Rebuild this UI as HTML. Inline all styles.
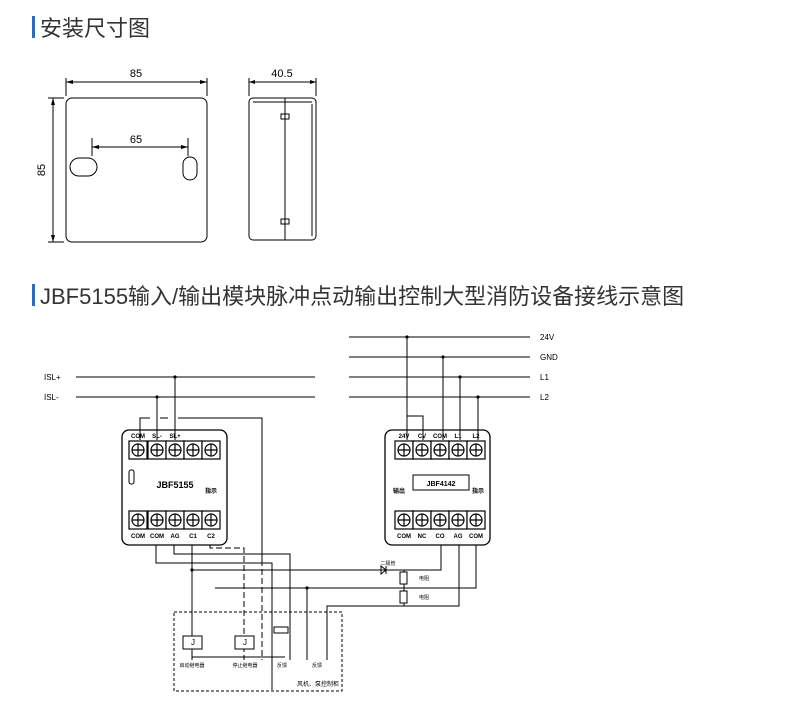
<!DOCTYPE html>
<html><head><meta charset="utf-8"><style>
body{margin:0;background:#fff;width:790px;height:714px;overflow:hidden;font-family:"Liberation Sans","Noto Sans CJK SC",sans-serif}
svg{position:absolute;left:0;top:0}
</style></head><body>
<svg width="790" height="714" viewBox="0 0 790 714" xmlns="http://www.w3.org/2000/svg" font-family="Liberation Sans, Noto Sans CJK SC, sans-serif">
<defs>
<g id="term"><rect x="-9" y="-9" width="18" height="18" fill="#fff" stroke="#000" stroke-width="1.2"/><circle r="6" fill="none" stroke="#000" stroke-width="1.2"/><path d="M-6 0H6M0-6V6" stroke="#000" stroke-width="1.2"/></g>
</defs>
<!-- titles -->
<rect x="32" y="16" width="3" height="22" fill="#1e6fd0"/>
<text x="40" y="36" font-size="22" fill="#333">安装尺寸图</text>
<rect x="32" y="284" width="3" height="22" fill="#1e6fd0"/>
<text x="40" y="304" font-size="22" fill="#333">JBF5155输入/输出模块脉冲点动输出控制大型消防设备接线示意图</text>

<g stroke="#000" fill="none" stroke-width="1">
<!-- front view -->
<rect x="66" y="98" width="141" height="144" rx="6"/>
<path d="M66 78V96M207 78V96M66 82H207"/>
<path d="M48 98H64M48 242H64M53 98V242"/>
<path d="M92 138V156M188 138V156M92 147H188"/>
<rect x="70" y="158" width="27" height="18" rx="9"/>
<rect x="183" y="157" width="14" height="23" rx="7"/>
<!-- side view -->
<rect x="249" y="98" width="67" height="142" rx="4"/>
<path d="M253 102H312M285 98V240M312 104V236"/>
<path d="M249 78V96M316 78V96M249 82H316"/>
<rect x="281" y="114" width="8" height="5"/><rect x="281" y="219" width="8" height="5"/>
</g>
<g fill="#000"><path d="M66 82l7-2v4zM207 82l-7-2v4zM53 98l-2 7h4zM53 242l-2-7h4zM92 147l7-2v4zM188 147l-7-2v4zM249 82l6-2v4zM316 82l-6-2v4z"/></g>
<text x="136" y="77" font-size="11" text-anchor="middle">85</text>
<text x="136" y="143" font-size="11" text-anchor="middle">65</text>
<text x="282" y="77" font-size="11" text-anchor="middle">40.5</text>
<text x="45" y="170" font-size="11" text-anchor="middle" transform="rotate(-90 45 170)">85</text>

<!-- bus lines -->
<g stroke="#000" stroke-width="1" fill="none">
<path d="M76 377H315M76 397H315M349 337H530M349 357H530M349 377H530M349 397H530"/>
<path d="M175 377V440M157 397V440"/>
<path d="M407 337V416H423V440M443 357V440M460 377V440M478 397V440M407 416V440"/>
<path d="M140 440V418H150M160 418H168M178 418H262V560"/>
<!-- modules -->
<rect x="122" y="430" width="105" height="115" rx="7" stroke-width="1.3"/>
<rect x="385" y="430" width="105" height="115" rx="7" stroke-width="1.3"/>
<!-- lower wiring -->
<path d="M156 545V563H272V690"/>
<path d="M174 545V554H290V660"/>
<path d="M192 545V660"/>
<path d="M210 545V548H244V660" stroke-dasharray="6 3"/>
<path d="M262 560V660" stroke-dasharray="6 3"/>
<path d="M192 570H441V545"/>
<path d="M215 588H476V545M404 570V606M307 588V660"/>
<path d="M459 545V606H327V660"/>
<path d="M192 657H285"/>
<rect x="174" y="612" width="168" height="79" stroke-dasharray="3 2"/>
<rect x="183" y="636" width="19" height="13" fill="#fff"/>
<rect x="235" y="636" width="19" height="13" fill="#fff"/>
<rect x="400" y="572" width="7" height="12" fill="#fff"/>
<rect x="400" y="591" width="7" height="12" fill="#fff"/>
<rect x="274" y="627" width="14" height="6" fill="#fff"/>
<path d="M386 566V574M386 570l-5-4v8z"/>
</g>
<g fill="#000"><circle cx="175" cy="377" r="1.6"/><circle cx="157" cy="397" r="1.6"/><circle cx="407" cy="337" r="1.6"/><circle cx="443" cy="357" r="1.6"/><circle cx="460" cy="377" r="1.6"/><circle cx="478" cy="397" r="1.6"/><circle cx="192" cy="570" r="1.6"/><circle cx="307" cy="588" r="1.6"/></g>
<g font-size="8">
<text x="540" y="340">24V</text><text x="540" y="360">GND</text><text x="540" y="380">L1</text><text x="540" y="400">L2</text>
<text x="44" y="380">ISL+</text><text x="44" y="400">ISL-</text>
</g>
<!-- terminals -->
<use href="#term" x="138" y="450"/><use href="#term" x="157" y="450"/><use href="#term" x="175" y="450"/><use href="#term" x="193" y="450"/><use href="#term" x="211" y="450"/>
<use href="#term" x="138" y="520"/><use href="#term" x="157" y="520"/><use href="#term" x="175" y="520"/><use href="#term" x="193" y="520"/><use href="#term" x="211" y="520"/>
<use href="#term" x="404" y="450"/><use href="#term" x="422" y="450"/><use href="#term" x="440" y="450"/><use href="#term" x="458" y="450"/><use href="#term" x="476" y="450"/>
<use href="#term" x="404" y="520"/><use href="#term" x="422" y="520"/><use href="#term" x="440" y="520"/><use href="#term" x="458" y="520"/><use href="#term" x="476" y="520"/>
<g font-size="6" font-weight="bold" text-anchor="middle">
<text x="138" y="438">COM</text><text x="157" y="438">SL-</text><text x="175" y="438">SL+</text>
<text x="138" y="538">COM</text><text x="157" y="538">COM</text><text x="175" y="538">AG</text><text x="193" y="538">C1</text><text x="211" y="538">C2</text>
<text x="404" y="438">24V</text><text x="422" y="438">CV</text><text x="440" y="438">COM</text><text x="458" y="438">L1</text><text x="476" y="438">L2</text>
<text x="404" y="538">COM</text><text x="422" y="538">NC</text><text x="440" y="538">CO</text><text x="458" y="538">AG</text><text x="476" y="538">COM</text>
<text x="175" y="488" font-size="9">JBF5155</text><text x="211" y="493">指示</text>
<text x="441" y="486" font-size="7">JBF4142</text><text x="478" y="493">指示</text><text x="399" y="493">输出</text>
</g>
<rect x="413" y="475" width="56" height="15" fill="none" stroke="#000"/>
<rect x="129" y="470" width="5" height="14" rx="2" fill="none" stroke="#000"/>
<g font-size="5" text-anchor="middle">
<text x="193" y="645" font-size="8">J</text><text x="245" y="645" font-size="8">J</text>
<text x="192" y="667">启动继电器</text><text x="245" y="667">停止继电器</text><text x="282" y="667">反馈</text><text x="317" y="667">反馈</text>
<text x="318" y="686" font-size="6">风机、泵控制柜</text>
<text x="388" y="565">二极管</text><text x="424" y="580">电阻</text><text x="424" y="599">电阻</text>
</g>
</svg>
</body></html>
